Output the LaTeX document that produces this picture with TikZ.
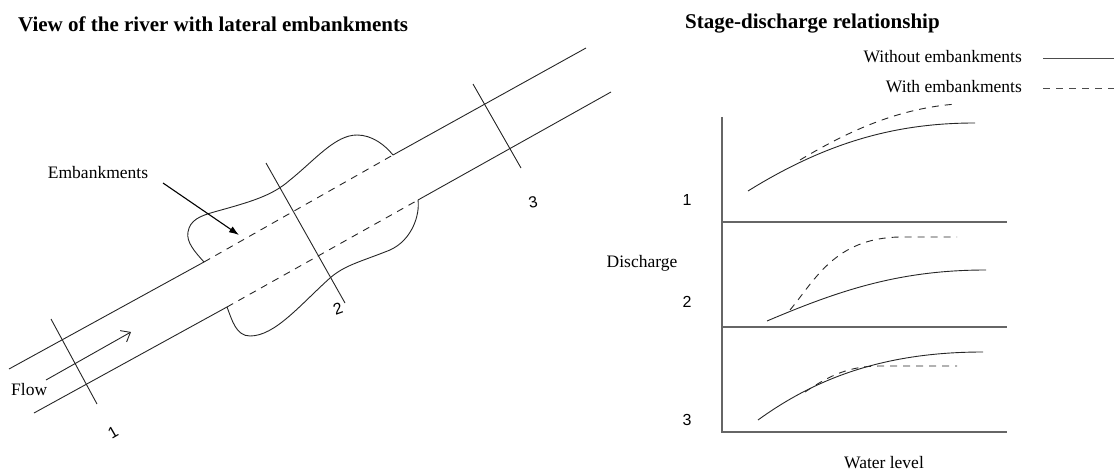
\documentclass[tikz,border=0pt]{standalone}
\usepackage{fontspec}
\setmainfont{Liberation Serif}
\newfontfamily\digitfont{Liberation Sans}
\usetikzlibrary{arrows.meta}
\begin{document}
\begin{tikzpicture}[x=1pt,y=-1pt,
  line/.style={draw=black!85, line width=0.9pt},
  dsh/.style={line, dash pattern=on 7pt off 6pt},
  axis/.style={draw=black!60, line width=1.3pt},
  title/.style={font=\fontsize{21}{24}\selectfont\bfseries, anchor=west, inner sep=0pt},
  lbl/.style={font=\fontsize{17.5}{20}\selectfont, inner sep=0pt},
  num/.style={font=\digitfont\fontsize{16}{18}\selectfont, inner sep=0pt},
]
\useasboundingbox (0,0) rectangle (1114,473);

% ---------- titles
\node[title] (t1) at (18,24) {View of the river with lateral embankments};
\node[title] (t2) at (685,24) {Stage-discharge relationship};

% ---------- river
\coordinate (ub0) at (9,369);
\coordinate (ub1) at (204,262);
\coordinate (ub2) at (393,155);
\coordinate (ub3) at (586,48);
\coordinate (lb0) at (34,413);
\coordinate (lb1) at (227,307);
\coordinate (lb2) at (418,200);
\coordinate (lb3) at (611,92);

\draw[line] (ub0) -- (ub1);
\draw[dsh] (ub1) -- (ub2);
\draw[line] (ub2) -- (ub3);
\draw[line] (lb0) -- (lb1);
\draw[dsh] (lb1) -- (lb2);
\draw[line] (lb2) -- (lb3);

% embankments (bulges)
\draw[line] (ub1) .. controls (195,252) and (186,242) .. (188,232)
  .. controls (190,220) and (200,216) .. (214,212)
  .. controls (250,202) and (272,196) .. (290,180)
  .. controls (315,160) and (335,135) .. (357,135)
  .. controls (372,135) and (385,145) .. (ub2);
\draw[line] (lb2) .. controls (420,215) and (412,240) .. (390,250)
  .. controls (360,262) and (345,265) .. (330,278)
  .. controls (300,305) and (275,336) .. (250,336)
  .. controls (236,336) and (232,320) .. (lb1);

% cross sections
\coordinate (c1a) at (51,319);  \coordinate (c1b) at (97,404);
\coordinate (c2a) at (266,163); \coordinate (c2b) at (345,303);
\coordinate (c3a) at (473,84);  \coordinate (c3b) at (521,168);
\draw[line] (c1a) -- (c1b);
\draw[line] (c2a) -- (c2b);
\draw[line] (c3a) -- (c3b);
\node[num, rotate=30] (n1) at (113,433) {1};
\node[num, rotate=20] (n2) at (338,309) {2};
\node[num, rotate=10] (n3) at (533,202) {3};

% flow
\coordinate (f0) at (46,380);
\coordinate (f1) at (131,332);
\draw[line, -{Straight Barb[length=8pt,width=13pt]}] (f0) -- (f1);
\node[lbl, anchor=west] (flow) at (11,390) {Flow};

% embankments label
\node[lbl] (emb) at (98,173) {Embankments};
\coordinate (e0) at (163,183);
\coordinate (e1) at (239,235);
\draw[draw=black, line width=1.1pt, -{Latex[length=10pt,width=7pt]}] (e0) -- (e1);

% ---------- right: legend
\node[lbl, anchor=east] (lg1) at (1022,57) {Without embankments};
\node[lbl, anchor=east] (lg2) at (1022,87) {With embankments};
\coordinate (lg1a) at (1043,58); \coordinate (lg1b) at (1114,58);
\coordinate (lg2a) at (1043,88); \coordinate (lg2b) at (1114,88);
\draw[line, draw=black!70] (lg1a) -- (lg1b);
\draw[dsh, draw=black!70] (lg2a) -- (lg2b);

% axes
\coordinate (ax0) at (722,117);
\coordinate (ax1) at (722,432);
\coordinate (h1a) at (722,222); \coordinate (h1b) at (1007,222);
\coordinate (h2a) at (722,327); \coordinate (h2b) at (1007,327);
\coordinate (h3b) at (1007,432);
\draw[axis] (ax0) -- (ax1) -- (h3b);
\draw[axis] (h1a) -- (h1b);
\draw[axis] (h2a) -- (h2b);

\node[num] (p1) at (687,200) {1};
\node[num] (p2) at (687,302) {2};
\node[num] (p3) at (687,420) {3};
\node[lbl] (dis) at (642,263) {Discharge};
\node[lbl] (wl) at (884,463) {Water level};

% panel 1
\draw[line] (748,191) .. controls (830,140) and (900,123) .. (975,123);
\draw[dsh] (800,160) .. controls (850,130) and (900,108) .. (957,104);
% panel 2
\draw[line] (767,321) .. controls (840,290) and (900,270) .. (986,270);
\draw[dsh] (790,310) .. controls (815,280) and (835,238) .. (900,237) -- (957,237);
% panel 3
\draw[line] (758,420) .. controls (820,375) and (890,352) .. (983,352);
\draw[dsh] (805,392) .. controls (830,375) and (850,366) .. (880,366) -- (957,366);
\end{tikzpicture}
\end{document}
